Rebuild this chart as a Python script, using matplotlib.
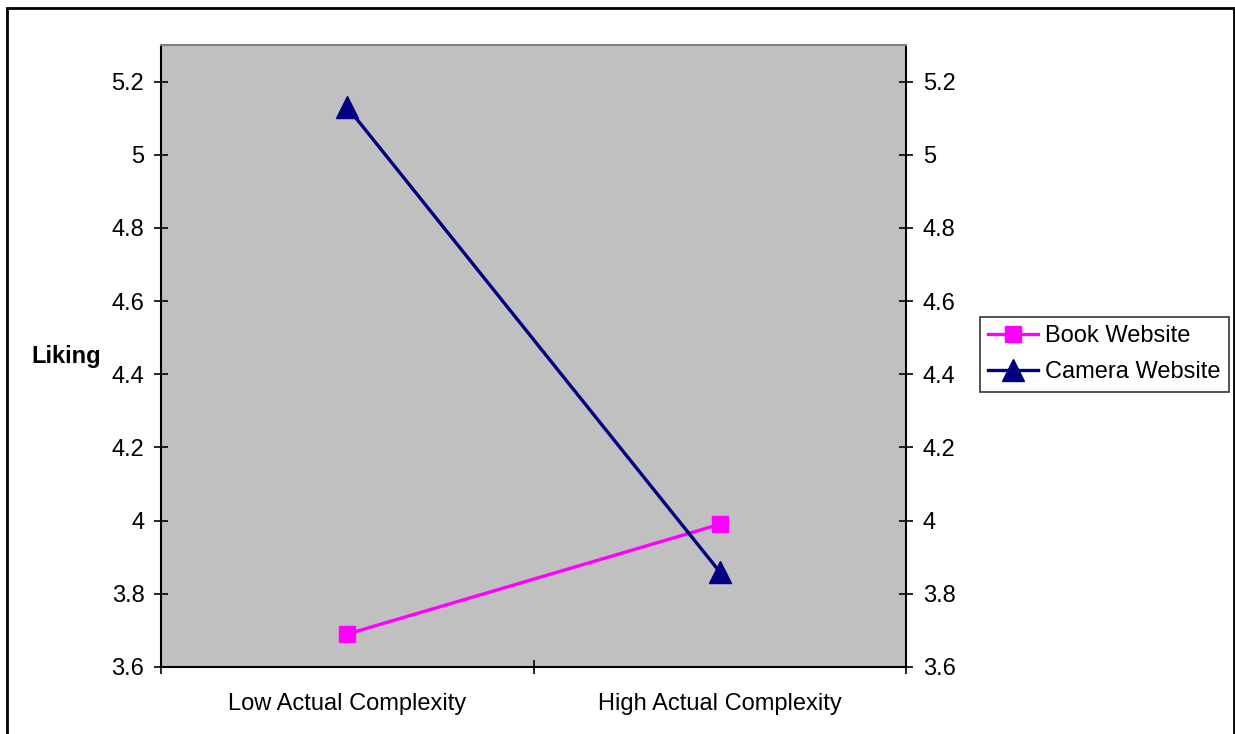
import matplotlib
matplotlib.use("Agg")
import matplotlib.pyplot as plt
from matplotlib.patches import Rectangle

categories = ["Low Actual Complexity", "High Actual Complexity"]
book = [3.69, 3.99]
camera = [5.13, 3.86]
yticks = [3.6, 3.8, 4.0, 4.2, 4.4, 4.6, 4.8, 5.0, 5.2]
ytick_labels = ["3.6", "3.8", "4", "4.2", "4.4", "4.6", "4.8", "5", "5.2"]

plt.rcParams['font.family'] = ['Liberation Sans', 'DejaVu Sans']

W, H = 1235, 734
FS = 17
fig = plt.figure(figsize=(W / 100, H / 100), dpi=100)
fig.patch.set_facecolor('white')

# outer frame (bottom cut off)
fig.add_artist(Rectangle((7 / W, -0.05), (1233.5 - 7) / W, 1.05 - 8 / H,
                         transform=fig.transFigure, fill=False,
                         edgecolor='black', linewidth=2.0))

ax = fig.add_axes([161 / W, 1 - 667 / H, (906 - 161) / W, (667 - 45) / H])
ax.set_facecolor('#c0c0c0')
x = list(range(len(categories)))
ax.plot(x, book, color='#ff00ff', linewidth=2.4, marker='s', markersize=12,
        label='Book Website', zorder=3)
ax.plot(x, camera, color='#000080', linewidth=2.4, marker='^', markersize=16,
        label='Camera Website', zorder=3)

ax.set_xlim(-0.5, len(categories) - 0.5)
ax.set_ylim(3.6, 5.3)
ax.set_yticks(yticks)
ax.set_yticklabels(ytick_labels, fontsize=FS)
ax.set_xticks([i - 0.5 for i in range(len(categories) + 1)])
ax.set_xticklabels([])
ax.set_xticks(x, minor=True)
ax.set_xticklabels(categories, minor=True, fontsize=FS)
ax.tick_params(axis='x', which='minor', length=0, pad=19)
ax.tick_params(axis='x', which='major', direction='inout', length=10, width=1.2)
ax.tick_params(axis='y', direction='inout', length=10, width=1.2, pad=7)

for s in ['left', 'bottom', 'right']:
    ax.spines[s].set_linewidth(1.5)
    ax.spines[s].set_color('black')
ax.spines['top'].set_color('#808080')
ax.spines['top'].set_linewidth(1.5)

ax2 = ax.twinx()
ax2.set_ylim(ax.get_ylim())
ax2.set_yticks(yticks)
ax2.set_yticklabels(ytick_labels, fontsize=FS)
ax2.tick_params(axis='y', direction='inout', length=10, width=1.2, pad=7)
for s in ax2.spines.values():
    s.set_visible(False)
ax.spines['right'].set_visible(True)

fig.text(66 / W, 1 - 356 / H, 'Liking', fontsize=FS, fontweight='bold',
         ha='center', va='center')

leg = ax.legend(loc='upper left', bbox_to_anchor=(980 / W, 1 - 317 / H),
                bbox_transform=fig.transFigure, fontsize=FS, frameon=True,
                fancybox=False, edgecolor='black', borderpad=0.35,
                handlelength=2.1, handletextpad=0.3, labelspacing=0.6,
                borderaxespad=0)
leg.get_frame().set_linewidth(1.2)

fig.savefig('out.png', dpi=100)
